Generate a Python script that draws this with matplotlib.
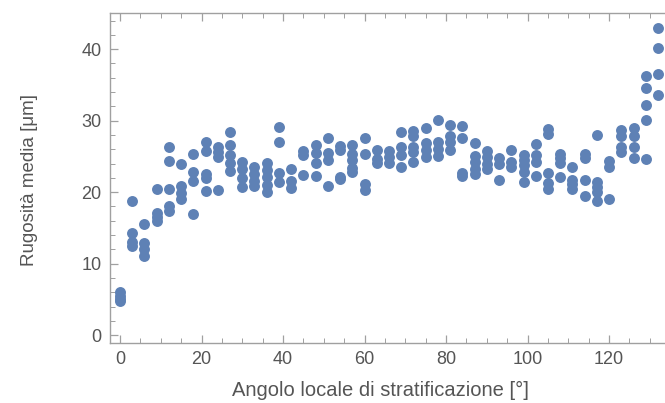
import matplotlib
matplotlib.use("Agg")
import matplotlib.pyplot as plt
from matplotlib.ticker import MultipleLocator

angles = [0, 3, 6, 9, 12, 15, 18, 21, 24, 27, 30, 33, 36, 39, 42, 45, 48, 51, 54, 57,
          60, 63, 66, 69, 72, 75, 78, 81, 84, 87, 90, 93, 96, 99, 102, 105, 108, 111,
          114, 117, 120, 123, 126, 129, 132]
roughness = [
    [6.0, 5.5, 5.0, 4.8],
    [18.7, 14.3, 13.0, 12.5],
    [15.6, 12.9, 12.0, 11.1],
    [20.4, 17.1, 16.5, 15.9],
    [26.3, 24.3, 20.4, 18.0, 17.4],
    [24.0, 20.8, 19.9, 19.0],
    [25.3, 22.8, 21.6, 16.9],
    [27.0, 25.8, 22.6, 22.0, 20.2],
    [26.3, 25.6, 24.9, 20.3],
    [28.4, 26.6, 25.2, 24.1, 23.0],
    [24.2, 23.2, 22.0, 20.7],
    [23.5, 22.5, 21.6, 20.8],
    [24.1, 23.1, 22.1, 21.0, 20.0],
    [29.1, 27.0, 22.7, 21.4],
    [23.2, 21.6, 20.6],
    [25.7, 25.2, 22.4],
    [26.6, 25.5, 24.1, 22.3],
    [27.5, 25.5, 24.5, 20.8],
    [26.5, 25.9, 22.1, 21.8],
    [26.6, 25.4, 24.5, 23.4, 22.8],
    [27.5, 25.3, 21.2, 20.3],
    [25.9, 24.6, 24.1],
    [25.8, 24.9, 24.1],
    [28.4, 26.3, 25.2, 23.5],
    [28.5, 27.8, 26.3, 25.6, 24.2],
    [29.0, 26.9, 25.9, 24.9],
    [30.1, 27.0, 26.1, 25.0],
    [29.4, 27.8, 27.0, 25.9],
    [29.2, 27.6, 22.7, 22.3],
    [26.8, 25.0, 24.2, 23.3, 22.6],
    [25.7, 24.9, 24.0, 23.2],
    [24.8, 24.0, 21.7],
    [25.9, 24.2, 23.5],
    [25.2, 24.5, 23.8, 22.8, 21.4],
    [26.7, 25.2, 24.2, 22.3],
    [28.8, 28.1, 22.7, 21.3, 20.5],
    [25.4, 24.8, 24.1, 22.1],
    [23.5, 21.7, 21.2, 20.5],
    [25.3, 24.8, 21.7, 19.5],
    [28.0, 21.4, 20.7, 20.0, 18.8],
    [24.3, 23.5, 19.1],
    [28.7, 27.8, 26.3, 25.6],
    [28.9, 27.9, 26.3, 24.8],
    [36.3, 34.5, 32.2, 30.1, 24.7],
    [42.9, 40.1, 36.5, 33.6],
]

xs, ys = [], []
for a, vals in zip(angles, roughness):
    for v in vals:
        xs.append(a)
        ys.append(v)

plt.rcParams['font.family'] = ['Liberation Sans', 'DejaVu Sans']
fig = plt.figure(figsize=(6.65, 4.03), dpi=100)
x0, x1 = -2.45, 136.0
scale = 4.076  # px per degree
ax = fig.add_axes([110/665, 60/403, (x1 - x0) * scale / 665, 330/403])
ax.scatter(xs, ys, s=62, color='#5E81B5', linewidths=0, zorder=3, clip_on=True)
ax.set_xlim(x0, x1)
ax.set_ylim(-1.1, 45.05)

frame = '#a0a0a0'
for sp in ax.spines.values():
    sp.set_color(frame)
    sp.set_linewidth(1.0)

ax.xaxis.set_major_locator(MultipleLocator(20))
ax.xaxis.set_minor_locator(MultipleLocator(5))
ax.yaxis.set_major_locator(MultipleLocator(10))
ax.yaxis.set_minor_locator(MultipleLocator(2))
ax.tick_params(which='both', direction='in', color=frame, top=True, right=True,
               labelcolor='#555555', labelsize=13)
ax.tick_params(which='major', length=6, width=0.9, pad=6)
ax.tick_params(which='minor', length=3.5, width=0.7)

fig.text(380/665, 1 - 390/403, 'Angolo locale di stratificazione [°]', fontsize=14.5,
         color='#555555', ha='center', va='center')
fig.text(30/665, 1 - 180/403, 'Rugosità media [μm]', fontsize=13.5,
         color='#555555', ha='center', va='center', rotation=90)

fig.savefig('out.png', dpi=100)
